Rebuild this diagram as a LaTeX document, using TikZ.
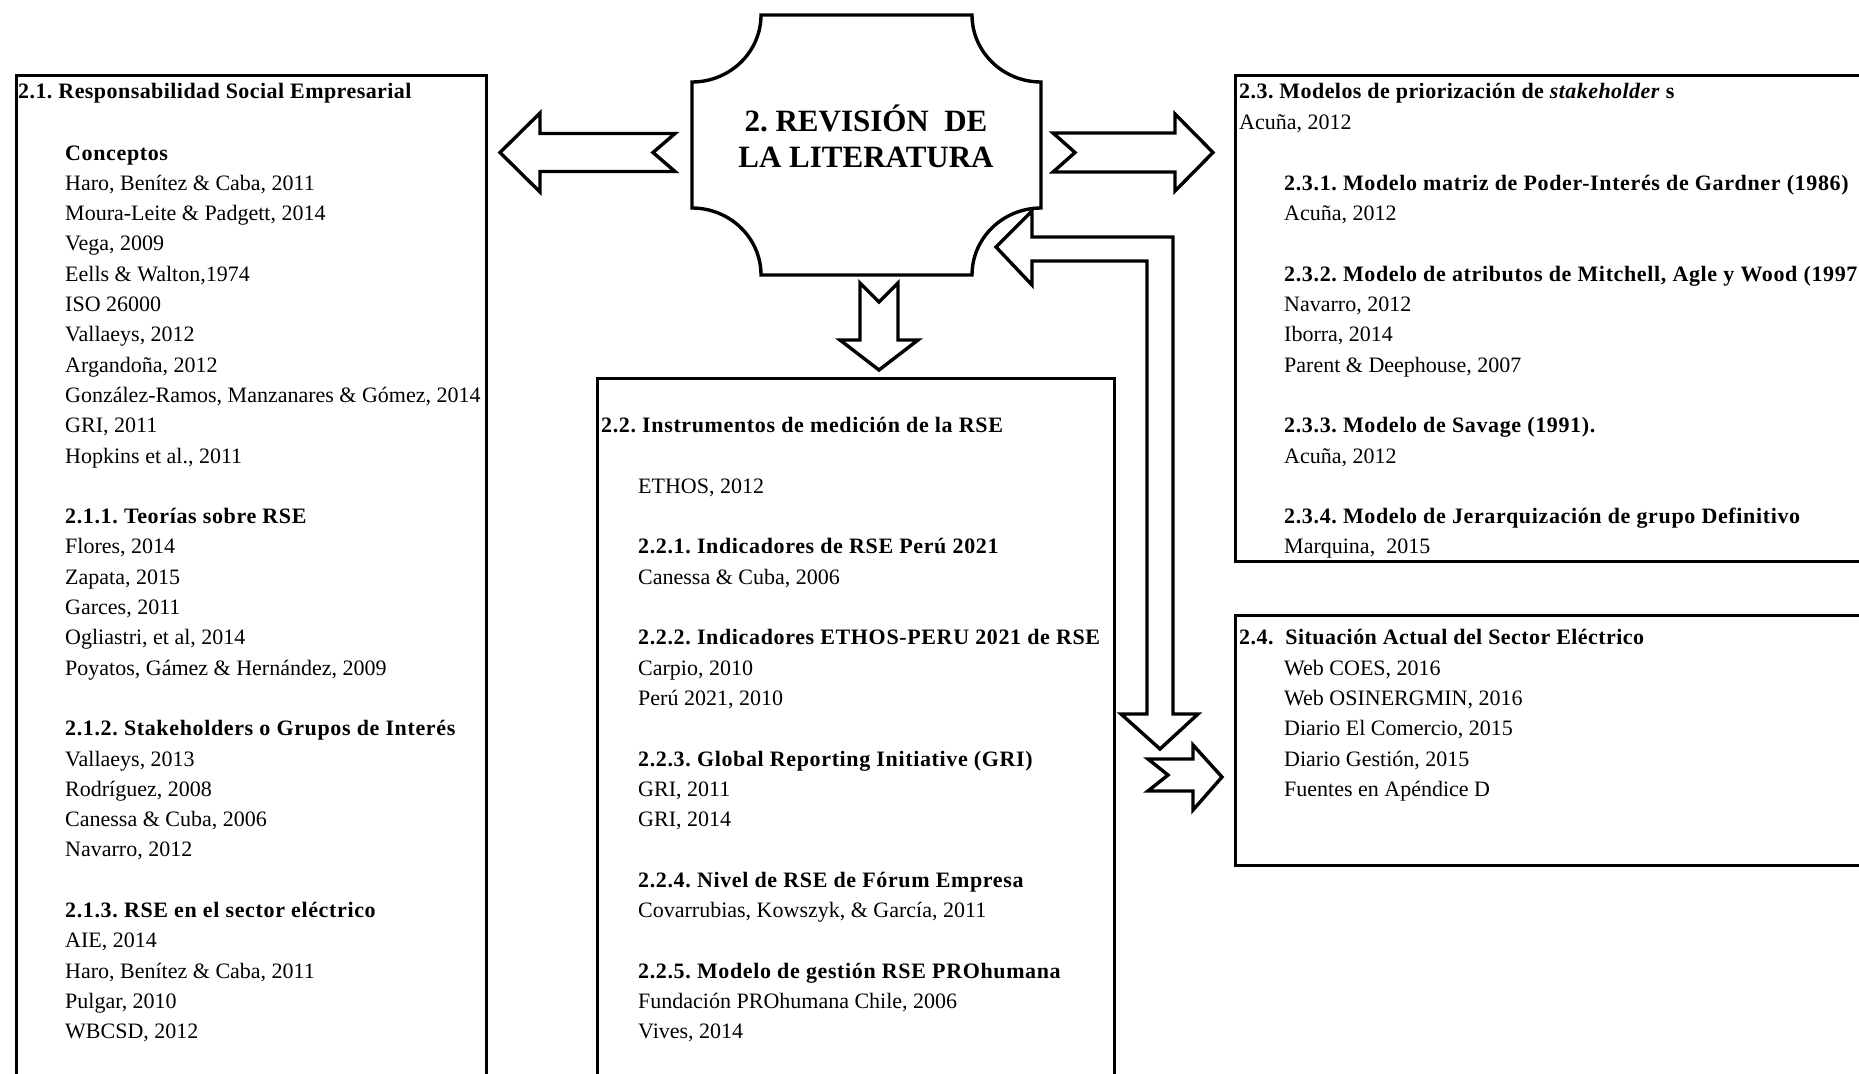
\documentclass[tikz,border=0pt]{standalone}
\usepackage{fontspec}
\setmainfont{Liberation Serif}
\newfontfamily\spacedserif[LetterSpace=2.9]{Liberation Serif}
\newfontfamily\titleserif[LetterSpace=2.0]{Liberation Serif}
% baseline of text row k (rows share one grid across all panels)
\newcommand\rowy[1]{160+30.3*#1}
\begin{document}
\frenchspacing
\begin{tikzpicture}[x=1pt, y=-1pt,
  panel/.style={draw=black, line width=3.2pt, fill=white, rectangle, anchor=north west, inner sep=0pt},
  blockarrow/.style={draw=black, line width=3.4pt, fill=white, line join=miter},
  plaque/.style={draw=black, line width=3.4pt, fill=white},
  txt/.style={anchor=base west, inner sep=0pt, font=\fontsize{22}{26}\selectfont},
  ttl/.style={anchor=base west, inner sep=0pt, font=\titleserif\fontsize{22}{26}\selectfont\bfseries},
  sub/.style={anchor=base west, inner sep=0pt, font=\spacedserif\fontsize{22}{26}\selectfont\bfseries},
  big/.style={anchor=base, inner sep=0pt, font=\fontsize{31}{36}\selectfont\bfseries}]

\useasboundingbox (0,0) rectangle (1859,1073);
\clip (0,0) rectangle (1859,1073);

% ---------- panels ----------
\node[panel, minimum width=470pt, minimum height=1060pt] (pRSE) at (15,73.5) {};
\node[panel, minimum width=517pt, minimum height=760pt] (pInst) at (596,377) {};
\node[panel, minimum width=700pt, minimum height=486.5pt] (pModel) at (1234,73.5) {};
\node[panel, minimum width=700pt, minimum height=250pt] (pSect) at (1234,614) {};

% ---------- central plaque ----------
\draw[plaque] (761,15) -- (972,15)
  .. controls (972,52) and (1003,82) .. (1041,82) -- (1041,208)
  .. controls (1003,208) and (972,238) .. (972,275) -- (761,275)
  .. controls (761,238) and (730,208) .. (692,208) -- (692,82)
  .. controls (730,82) and (761,52) .. (761,15) -- cycle;
\node[big] (rev1) at (866,131) {2. REVISIÓN\ \ DE};
\node[big] (rev2) at (866,167) {LA LITERATURA};

% ---------- block arrows ----------
% to the left panel
\draw[blockarrow] (500,152.5) -- (540,113) -- (540,133.5) -- (675,133.5) -- (653,152.5)
  -- (675,171.5) -- (540,171.5) -- (540,192) -- cycle;
% to the upper right panel
\draw[blockarrow] (1053,133) -- (1175,133) -- (1175,114) -- (1213,152.5) -- (1175,191)
  -- (1175,172) -- (1053,172) -- (1075,152.5) -- cycle;
% down to the middle panel
\draw[blockarrow] (860,283) -- (879,302) -- (898,283) -- (898,340) -- (918,340)
  -- (879,370) -- (840,340) -- (860,340) -- cycle;
% bent two-way arrow
\draw[blockarrow] (996,247) -- (1032,211) -- (1032,237) -- (1173,237) -- (1173,714)
  -- (1198,714) -- (1160,749) -- (1121,714) -- (1147,714) -- (1147,261)
  -- (1032,261) -- (1032,285) -- cycle;
% to the lower right panel
\draw[blockarrow] (1148,759) -- (1193,759) -- (1193,745) -- (1222,777) -- (1193,810)
  -- (1193,791) -- (1148,791) -- (1168,775) -- cycle;

% ---------- 2.1 ----------
\node[ttl] (a0) at (18,98) {2.1. Responsabilidad Social Empresarial};
\node[sub] (a1) at (65,{\rowy{0}}) {Conceptos};
\node[txt] (a2) at (65,{\rowy{1}}) {Haro, Benítez \& Caba, 2011};
\node[txt] (a3) at (65,{\rowy{2}}) {Moura-Leite \& Padgett, 2014};
\node[txt] (a4) at (65,{\rowy{3}}) {Vega, 2009};
\node[txt] (a5) at (65,{\rowy{4}}) {Eells \& Walton,1974};
\node[txt] (a6) at (65,{\rowy{5}}) {ISO 26000};
\node[txt] (a7) at (65,{\rowy{6}}) {Vallaeys, 2012};
\node[txt] (a8) at (65,{\rowy{7}}) {Argandoña, 2012};
\node[txt] (a9) at (65,{\rowy{8}}) {González-Ramos, Manzanares \& Gómez, 2014};
\node[txt] (a10) at (65,{\rowy{9}}) {GRI, 2011};
\node[txt] (a11) at (65,{\rowy{10}}) {Hopkins et al., 2011};
\node[sub] (a12) at (65,{\rowy{12}}) {2.1.1. Teorías sobre RSE};
\node[txt] (a13) at (65,{\rowy{13}}) {Flores, 2014};
\node[txt] (a14) at (65,{\rowy{14}}) {Zapata, 2015};
\node[txt] (a15) at (65,{\rowy{15}}) {Garces, 2011};
\node[txt] (a16) at (65,{\rowy{16}}) {Ogliastri, et al, 2014};
\node[txt] (a17) at (65,{\rowy{17}}) {Poyatos, Gámez \& Hernández, 2009};
\node[sub] (a18) at (65,{\rowy{19}}) {2.1.2. Stakeholders o Grupos de Interés};
\node[txt] (a19) at (65,{\rowy{20}}) {Vallaeys, 2013};
\node[txt] (a20) at (65,{\rowy{21}}) {Rodríguez, 2008};
\node[txt] (a21) at (65,{\rowy{22}}) {Canessa \& Cuba, 2006};
\node[txt] (a22) at (65,{\rowy{23}}) {Navarro, 2012};
\node[sub] (a23) at (65,{\rowy{25}}) {2.1.3. RSE en el sector eléctrico};
\node[txt] (a24) at (65,{\rowy{26}}) {AIE, 2014};
\node[txt] (a25) at (65,{\rowy{27}}) {Haro, Benítez \& Caba, 2011};
\node[txt] (a26) at (65,{\rowy{28}}) {Pulgar, 2010};
\node[txt] (a27) at (65,{\rowy{29}}) {WBCSD, 2012};

% ---------- 2.2 ----------
\node[sub] (b0) at (601,{\rowy{9}}) {2.2. Instrumentos de medición de la RSE};
\node[txt] (b1) at (638,{\rowy{11}}) {ETHOS, 2012};
\node[sub] (b2) at (638,{\rowy{13}}) {2.2.1. Indicadores de RSE Perú 2021};
\node[txt] (b3) at (638,{\rowy{14}}) {Canessa \& Cuba, 2006};
\node[sub] (b4) at (638,{\rowy{16}}) {2.2.2. Indicadores ETHOS-PERU 2021 de RSE};
\node[txt] (b5) at (638,{\rowy{17}}) {Carpio, 2010};
\node[txt] (b6) at (638,{\rowy{18}}) {Perú 2021, 2010};
\node[sub] (b7) at (638,{\rowy{20}}) {2.2.3. Global Reporting Initiative (GRI)};
\node[txt] (b8) at (638,{\rowy{21}}) {GRI, 2011};
\node[txt] (b9) at (638,{\rowy{22}}) {GRI, 2014};
\node[sub] (b10) at (638,{\rowy{24}}) {2.2.4. Nivel de RSE de Fórum Empresa};
\node[txt] (b11) at (638,{\rowy{25}}) {Covarrubias, Kowszyk, \& García, 2011};
\node[sub] (b12) at (638,{\rowy{27}}) {2.2.5. Modelo de gestión RSE PROhumana};
\node[txt] (b13) at (638,{\rowy{28}}) {Fundación PROhumana Chile, 2006};
\node[txt] (b14) at (638,{\rowy{29}}) {Vives, 2014};

% ---------- 2.3 ----------
\node[ttl] (c0) at (1239,98) {2.3. Modelos de priorización de \textit{stakeholder} s};
\node[txt] (c1) at (1239,{\rowy{-1}}) {Acuña, 2012};
\node[sub] (c2) at (1284,{\rowy{1}}) {2.3.1. Modelo matriz de Poder-Interés de Gardner (1986)};
\node[txt] (c3) at (1284,{\rowy{2}}) {Acuña, 2012};
\node[sub] (c4) at (1284,{\rowy{4}}) {2.3.2. Modelo de atributos de Mitchell, Agle y Wood (1997};
\node[txt] (c5) at (1284,{\rowy{5}}) {Navarro, 2012};
\node[txt] (c6) at (1284,{\rowy{6}}) {Iborra, 2014};
\node[txt] (c7) at (1284,{\rowy{7}}) {Parent \& Deephouse, 2007};
\node[sub] (c8) at (1284,{\rowy{9}}) {2.3.3. Modelo de Savage (1991).};
\node[txt] (c9) at (1284,{\rowy{10}}) {Acuña, 2012};
\node[sub] (c10) at (1284,{\rowy{12}}) {2.3.4. Modelo de Jerarquización de grupo Definitivo};
\node[txt] (c11) at (1284,{\rowy{13}}) {Marquina,\ \ 2015};

% ---------- 2.4 ----------
\node[ttl] (d0) at (1239,{\rowy{16}}) {2.4.\ \ Situación Actual del Sector Eléctrico};
\node[txt] (d1) at (1284,{\rowy{17}}) {Web COES, 2016};
\node[txt] (d2) at (1284,{\rowy{18}}) {Web OSINERGMIN, 2016};
\node[txt] (d3) at (1284,{\rowy{19}}) {Diario El Comercio, 2015};
\node[txt] (d4) at (1284,{\rowy{20}}) {Diario Gestión, 2015};
\node[txt] (d5) at (1284,{\rowy{21}}) {Fuentes en Apéndice D};
\end{tikzpicture}
\end{document}
